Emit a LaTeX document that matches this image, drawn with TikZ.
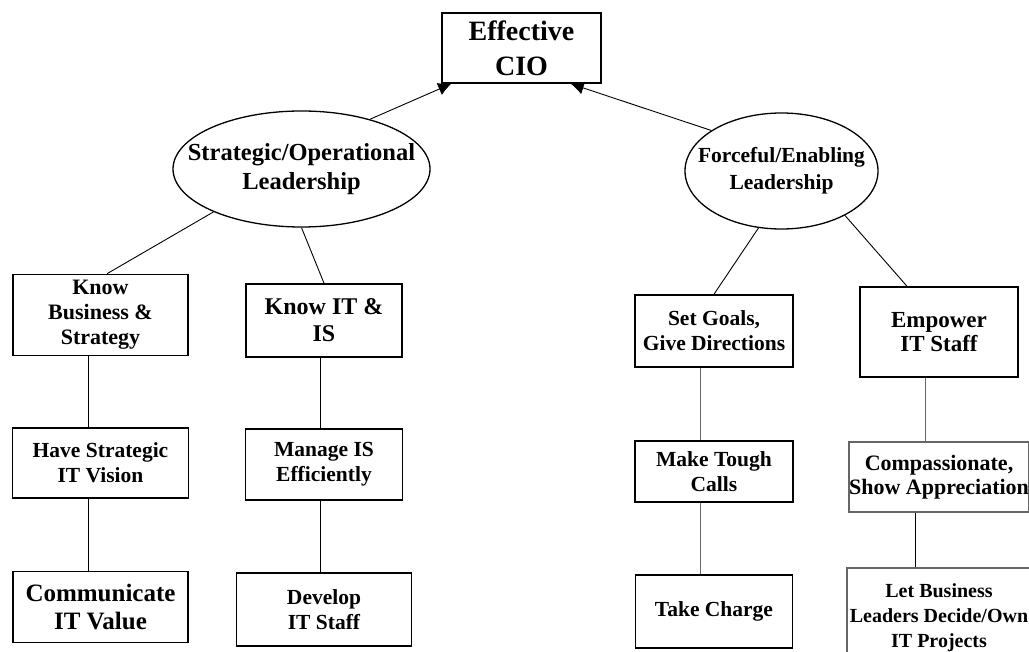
\documentclass[tikz,border=0pt]{standalone}
\usepackage{fontspec}
\setmainfont{Liberation Serif}
\usetikzlibrary{shapes.geometric, positioning, arrows.meta}

\begin{document}
\begin{tikzpicture}[x=1pt, y=-1pt, on grid, node distance=144pt,
    every node/.style={align=center},
    box/.style={draw, line width=1.6pt, inner sep=0pt, font=\bfseries\fontsize{21.5}{25}\selectfont},
    lead/.style={draw, ellipse, line width=1.3pt, inner sep=0pt},
    lbl/.style 2 args={font=\bfseries\fontsize{#1}{#2}\selectfont},
    link/.style={line width=0.9pt},
    faint/.style={draw=black!60}]
  \useasboundingbox (0,0) rectangle (1029,652);
  \clip (0,0) rectangle (1029,652);

  % top and the two kinds of leadership
  \node[box, minimum width=159pt, minimum height=70pt, font=\bfseries\fontsize{28}{35}\selectfont] (cio) at (521.5,48) {Effective\\CIO};
  \node[lead, minimum width=257pt, minimum height=116pt, label={[lbl={24.5}{29}]center:Strategic/Operational\\Leadership}] (strat) at (301.5,169) {};
  \node[lead, minimum width=193pt, minimum height=116pt, label={[lbl={21.5}{27}]center:Forceful/Enabling\\Leadership}] (force) at (781.5,171) {};

  % strategic side
  \node[box, minimum width=175pt, minimum height=81pt, font=\bfseries\fontsize{22}{25}\selectfont] (kbs) at (100.5,315) {Know\\Business \&\\Strategy};
  \node[box, minimum width=176pt, minimum height=70pt] (hsv) [below=148pt of kbs] {Have Strategic\\IT Vision};
  \node[box, minimum width=175pt, minimum height=71pt, font=\bfseries\fontsize{25}{28}\selectfont] (cit) [below=of hsv] {Communicate\\IT Value};
  \node[box, minimum width=156pt, minimum height=73pt, font=\bfseries\fontsize{24}{27}\selectfont] (kit) at (324,320.5) {Know IT \&\\IS};
  \node[box, minimum width=157pt, minimum height=71pt] (mis) [below=of kit] {Manage IS\\Efficiently};
  \node[box, minimum width=175pt, minimum height=73pt] (dev) [below=145pt of mis] {Develop\\IT Staff};

  % forceful side
  \node[box, minimum width=158pt, minimum height=72pt] (sgd) at (714,331) {Set Goals,\\Give Directions};
  \node[box, minimum width=158pt, minimum height=61pt] (mtc) [below=140.5pt of sgd] {Make Tough\\Calls};
  \node[box, minimum width=157pt, minimum height=73pt] (tch) [below=140pt of mtc] {Take Charge};
  \node[box, minimum width=158pt, minimum height=90pt, font=\bfseries\fontsize{23}{24}\selectfont] (emp) at (939,332) {Empower\\IT Staff};
  \node[box, faint, minimum width=179pt, minimum height=70pt, font=\bfseries\fontsize{22}{24}\selectfont] (cmp) [below=145pt of emp] {Compassionate,\\Show Appreciation};
  \node[box, faint, minimum width=184pt, minimum height=100pt, font=\bfseries\fontsize{20}{25}\selectfont] (lbo) [below=141pt of cmp] {Let Business\\Leaders Decide/Own\\IT Projects};

  \draw[link, -{Latex[length=13pt, width=13pt]}] (strat.36) -- (cio.207);
  \draw[link, -{Latex[length=13pt, width=13pt]}] (force.150) -- (cio.324);
  \path[link]
    (strat.206) edge (kbs.81)
    (strat.south) edge (kit.north)
    (force.248) edge (sgd.north)
    (force.325) edge (emp.125)
    ([xshift=-12pt]kbs.south) edge ([xshift=-12pt]hsv.north)
    ([xshift=-12pt]hsv.south) edge ([xshift=-12pt]cit.north)
    ([xshift=-4pt]kit.south) edge ([xshift=-4pt]mis.north)
    ([xshift=-4pt]mis.south) edge ([xshift=-4pt]dev.north)
    ([xshift=-14pt]sgd.south) edge[faint] ([xshift=-14pt]mtc.north)
    ([xshift=-14pt]mtc.south) edge[faint] ([xshift=-14pt]tch.north)
    ([xshift=-14pt]emp.south) edge[faint] ([xshift=-14pt]cmp.north)
    ([xshift=-23.5pt]cmp.south) edge ([xshift=-23.5pt]cmp.south |- lbo.north);
\end{tikzpicture}
\end{document}
